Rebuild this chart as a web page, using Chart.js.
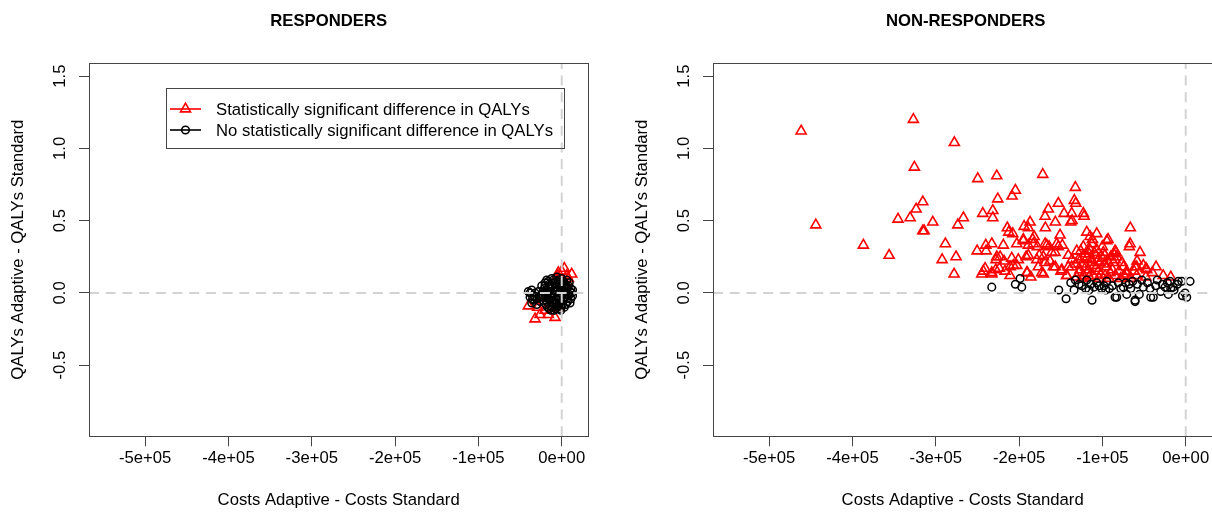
<!DOCTYPE html>
<html>
<head>
<meta charset="utf-8">
<title>Cost-effectiveness planes</title>
<script src="https://cdn.jsdelivr.net/npm/chart.js"></script>
<style>
  html, body { margin: 0; padding: 0; background: #fff; overflow: hidden; }
  body { width: 1212px; height: 518px; position: relative; }
  .panel { position: absolute; top: 0; width: 624px; height: 518px; }
</style>
</head>
<body>
<div class="panel" style="left:0"><canvas id="responders"></canvas></div>
<div class="panel" style="left:624px"><canvas id="nonResponders"></canvas></div>

<script>
// axis ticks, shared by both panels
const xTicks = [-500000, -400000, -300000, -200000, -100000, 0];
const xTickLabels = ['-5e+05', '-4e+05', '-3e+05', '-2e+05', '-1e+05', '0e+00'];
const yTicks = [-0.5, 0, 0.5, 1, 1.5];
const yTickLabels = ['-0.5', '0.0', '0.5', '1.0', '1.5'];

const seriesLabels = [
    'Statistically significant difference in QALYs',
    'No statistically significant difference in QALYs'
];

// [cost difference, QALY difference] per simulated patient
const respondersSig = [
    [3100, 0.17], [-4100, 0.14], [12000, 0.13], [6000, 0.12], [-4800, 0.12],
    [0, 0.15], [8000, 0.10], [-40000, -0.09], [-28800, -0.10], [-32000, -0.18],
    [-16100, -0.15], [-8000, -0.17], [-26000, -0.15], [-20000, -0.12], [-4100, -0.10]
];
const respondersNonSig = [
    [-40000, 0.01], [-36000, 0.02], [-32000, 0.00], [-38000, -0.03], [-34000, -0.05],
    [-30000, -0.04], [-28000, 0.01], [-26000, -0.02], [-36000, -0.07], [-30000, -0.08],
    [-18000, 0.09], [-12000, 0.10], [-6000, 0.11], [0, 0.10], [6000, 0.09],
    [9000, 0.07], [-15000, 0.06], [-9000, 0.07], [-3000, 0.06], [3000, 0.07],
    [7000, 0.04], [-21000, 0.03], [-14000, 0.03], [-8000, 0.04], [-2000, 0.02],
    [4000, 0.03], [10000, 0.01], [-23000, -0.01], [-17000, 0.00], [-11000, -0.01],
    [-5000, 0.01], [1000, -0.01], [8000, -0.02], [12000, 0.00], [-22000, -0.05],
    [-16000, -0.04], [-10000, -0.05], [-4000, -0.03], [2000, -0.05], [7000, -0.06],
    [11000, -0.04], [-19000, -0.08], [-13000, -0.09], [-7000, -0.07], [-1000, -0.09],
    [5000, -0.08], [-15000, -0.11], [-9000, -0.12], [-3000, -0.11], [3000, -0.10],
    [-20000, 0.07], [-6000, 0.08], [-12000, -0.03], [-1000, 0.05], [-26000, -0.06],
    [-24000, 0.05], [-20000, 0.05], [-16000, 0.08], [-10000, 0.09], [-4000, 0.09],
    [2000, 0.08], [8000, 0.05], [-18000, 0.02], [-12000, 0.05], [-6000, 0.04],
    [0, 0.04], [5000, 0.05], [11000, 0.03], [-20000, -0.02], [-14000, -0.01],
    [-8000, 0.01], [-2000, 0.00], [4000, 0.01], [9000, -0.01], [-24000, -0.03],
    [-18000, -0.06], [-12000, -0.06], [-6000, -0.05], [0, -0.06], [6000, -0.04],
    [10000, -0.07], [-17000, -0.10], [-11000, -0.10], [-5000, -0.09], [1000, -0.08],
    [-13000, -0.12], [-7000, -0.11], [-1000, -0.12], [-22000, 0.01], [-2000, 0.08],
    [4000, 0.06], [-8000, 0.02], [-15000, 0.01], [-9000, -0.03], [-3000, -0.07],
    [3000, -0.03], [-27000, -0.03], [-33000, -0.02], [-38000, 0.00], [-35000, -0.04],
    [13000, 0.02], [13000, -0.02]
];

const nonRespondersSig = [
    [-461600, 1.12], [-326900, 1.20], [-277700, 1.04], [-325700, 0.87], [-249600, 0.79],
    [-226800, 0.81], [-225600, 0.65], [-315600, 0.63], [-323600, 0.58], [-345300, 0.51],
    [-330800, 0.52], [-303600, 0.49], [-315600, 0.43], [-314000, 0.43], [-266900, 0.52],
    [-273600, 0.47], [-243600, 0.55], [-231600, 0.57], [-231600, 0.52], [-444000, 0.47],
    [-386900, 0.33], [-356000, 0.26], [-288500, 0.34], [-292400, 0.23], [-275700, 0.25],
    [-278000, 0.13], [-250400, 0.29], [-240000, 0.33], [-232800, 0.34], [-239600, 0.29],
    [-240800, 0.17], [-244800, 0.13], [-232800, 0.13], [-227600, 0.23], [-228000, 0.16],
    [-171600, 0.82], [-132500, 0.73], [-204500, 0.71], [-208400, 0.67], [-133700, 0.64],
    [-132000, 0.62], [-152900, 0.62], [-164900, 0.58], [-122900, 0.55], [-122000, 0.53],
    [-146000, 0.55], [-136800, 0.55], [-168800, 0.53], [-136400, 0.50], [-156500, 0.49],
    [-186800, 0.49], [-194000, 0.46], [-188900, 0.45], [-214100, 0.45], [-212400, 0.42],
    [-207600, 0.41], [-168500, 0.45], [-150800, 0.40], [-118800, 0.42], [-106800, 0.41],
    [-114800, 0.39], [-93200, 0.37], [-66500, 0.45], [-66800, 0.34], [-67700, 0.32],
    [-54800, 0.28], [-35600, 0.18], [-47600, 0.17], [-83600, 0.28], [-86400, 0.27],
    [-84800, 0.23], [-76400, 0.21], [-58400, 0.22], [-60800, 0.18], [-18000, 0.11],
    [-48000, 0.11], [-70800, 0.13], [-90800, 0.14], [-194900, 0.37], [-183600, 0.37],
    [-182000, 0.39], [-202800, 0.34], [-188900, 0.33], [-178100, 0.32], [-164000, 0.32],
    [-148100, 0.33], [-160800, 0.28], [-175700, 0.26], [-191600, 0.25], [-208800, 0.24],
    [-222800, 0.25], [-218000, 0.22], [-242900, 0.15], [-223700, 0.17], [-210800, 0.18],
    [-202800, 0.19], [-210800, 0.12], [-190100, 0.14], [-186000, 0.11], [-170900, 0.13],
    [-156500, 0.18], [-149600, 0.15], [-142800, 0.12], [-136400, 0.23], [-140900, 0.18],
    [-138000, 0.49], [-94800, 0.36], [-166800, 0.33], [-152900, 0.32], [-140900, 0.26],
    [-130800, 0.29], [-122900, 0.32], [-112800, 0.34], [-106800, 0.30], [-98900, 0.28],
    [-84800, 0.29], [-82800, 0.25], [-128800, 0.23], [-118800, 0.24], [-112800, 0.21],
    [-102800, 0.21], [-94800, 0.18], [-86900, 0.21], [-74900, 0.18], [-70800, 0.15],
    [-58800, 0.18], [-46800, 0.16], [-136800, 0.18], [-126800, 0.16], [-116900, 0.16],
    [-104900, 0.15], [-122900, 0.12], [-110900, 0.12], [-96800, 0.12], [-84800, 0.12],
    [-168800, 0.21], [-158900, 0.18], [-148800, 0.16], [-142800, 0.12], [-130800, 0.11],
    [-172800, 0.14], [-218900, 0.33], [-194900, 0.36], [-182900, 0.34], [-168800, 0.34],
    [-154800, 0.34], [-226800, 0.25], [-200900, 0.23], [-188900, 0.26], [-178800, 0.23],
    [-170900, 0.25], [-156800, 0.28], [-232800, 0.14], [-216900, 0.15], [-206900, 0.19],
    [-190800, 0.14], [-176900, 0.18], [-162900, 0.22], [-50900, 0.19], [-58800, 0.12],
    [-120000, 0.27], [-108000, 0.26], [-100000, 0.24], [-115000, 0.30], [-125000, 0.20],
    [-110000, 0.19], [-118000, 0.14], [-104000, 0.10], [-128000, 0.14], [-100000, 0.32],
    [-90000, 0.25], [-112000, 0.37], [-78000, 0.10], [-66000, 0.10], [-27000, 0.12],
    [-40000, 0.14], [-124000, 0.25], [-116000, 0.27], [-106000, 0.22], [-98000, 0.20],
    [-120000, 0.18], [-113000, 0.23], [-108000, 0.17], [-102000, 0.13], [-94000, 0.22],
    [-124000, 0.10], [-116000, 0.11], [-92000, 0.10], [-88000, 0.16], [-132000, 0.20],
    [-126000, 0.29], [-110000, 0.28], [-97000, 0.26], [-80000, 0.15], [-74000, 0.12],
    [-62000, 0.15]
];
const nonRespondersNonSig = [
    [-232800, 0.04], [-204500, 0.06], [-198800, 0.10], [-196800, 0.04], [-152400, 0.02],
    [-143600, -0.04], [-132500, 0.09], [-134000, 0.02], [-124800, 0.05], [-118800, 0.09],
    [-112400, -0.05], [-106800, 0.07], [-100800, 0.03], [-94800, 0.08], [-91700, 0.03],
    [-82800, -0.03], [-80900, 0.07], [-74900, 0.04], [-70800, -0.01], [-63600, 0.08],
    [-60800, -0.05], [-55700, -0.01], [-52800, 0.09], [-50900, 0.04], [-42000, -0.03],
    [-42800, 0.03], [-34100, 0.09], [-30000, 0.01], [-24800, 0.04], [-20900, -0.01],
    [-18800, 0.08], [-14900, 0.04], [-4800, 0.08], [5200, 0.08], [-800, 0.00],
    [1200, -0.03], [-110000, 0.04], [-98000, 0.05], [-88000, 0.05], [-78000, 0.03],
    [-66000, 0.03], [-128000, 0.06], [-116000, 0.02], [-104000, 0.05], [-84800, -0.03],
    [-60800, -0.06], [-38900, -0.03], [-8900, 0.08], [-4000, -0.02], [-28000, 0.06],
    [-14000, 0.02], [-22000, 0.07], [-46000, 0.07], [-58000, 0.06], [-68000, 0.06],
    [-120000, 0.03], [-138000, 0.07], [-114000, 0.06], [-96000, 0.02], [-72000, 0.07],
    [-36000, 0.05], [-18000, 0.03], [-10000, 0.06]
];

const FONT = '"Liberation Sans", Arial, Helvetica, sans-serif';
const FONT_SIZE = 16.7;
const AXIS_COLOR = '#444';

// box, reference lines, titles, rotated y labels and the legend
const panelDecor = {
    id: 'panelDecor',
    afterDatasetsDraw(chart) {
        const { ctx, chartArea: a, scales: { x, y } } = chart;
        const x0 = x.getPixelForValue(0);
        const y0 = y.getPixelForValue(0);
        ctx.save();
        ctx.beginPath();
        ctx.rect(a.left, a.top, a.width, a.height);
        ctx.clip();
        ctx.strokeStyle = '#d3d3d3';
        ctx.lineWidth = 2;
        ctx.setLineDash([10, 6.7]);
        ctx.beginPath();
        ctx.moveTo(a.left, y0);
        ctx.lineTo(a.right, y0);
        ctx.moveTo(x0, a.bottom);
        ctx.lineTo(x0, a.top);
        ctx.stroke();
        ctx.restore();
    },
    afterDraw(chart, args, opts) {
        const { ctx, chartArea: a, scales: { y } } = chart;
        const cx = (a.left + a.right) / 2;
        const cy = (a.top + a.bottom) / 2;
        ctx.save();

        ctx.strokeStyle = AXIS_COLOR;
        ctx.lineWidth = 1;
        ctx.strokeRect(Math.round(a.left) + 0.5, Math.round(a.top) + 0.5,
            Math.round(a.width), Math.round(a.height));

        ctx.fillStyle = '#000';
        ctx.textAlign = 'center';
        ctx.textBaseline = 'middle';
        ctx.font = 'bold ' + FONT_SIZE + 'px ' + FONT;
        ctx.fillText(opts.title, cx + opts.titleShift, 21);

        ctx.font = FONT_SIZE + 'px ' + FONT;
        ctx.fillText('Costs Adaptive - Costs Standard', cx, 500);

        yTicks.forEach((v, i) => {
            ctx.save();
            ctx.translate(a.left - 29, y.getPixelForValue(v));
            ctx.rotate(-Math.PI / 2);
            ctx.fillText(yTickLabels[i], 0, 0);
            ctx.restore();
        });

        ctx.save();
        ctx.translate(a.left - 71, cy);
        ctx.rotate(-Math.PI / 2);
        ctx.fillText('QALYs Adaptive - QALYs Standard', 0, 0);
        ctx.restore();

        if (opts.legend) {
            const lx = 166, ly = 88, lw = 398, lh = 60;
            ctx.strokeStyle = AXIS_COLOR;
            ctx.strokeRect(lx + 0.5, ly + 0.5, lw, lh);
            ctx.textAlign = 'left';
            chart.data.datasets.forEach((ds, i) => {
                const rowY = 109 + i * 21;
                ctx.strokeStyle = ds.borderColor;
                ctx.lineWidth = 1.6;
                ctx.beginPath();
                ctx.moveTo(170, rowY);
                ctx.lineTo(201, rowY);
                ctx.stroke();
                ctx.fillStyle = 'rgba(0,0,0,0)';
                Chart.helpers.drawPoint(ctx, {
                    pointStyle: ds.pointStyle,
                    radius: ds.pointRadius,
                    rotation: 0,
                    borderWidth: ds.borderWidth
                }, 185.5, rowY);
                ctx.fillStyle = '#000';
                ctx.fillText(ds.label, 216, rowY + 1);
            });
        }
        ctx.restore();
    }
};

function toPoints(pairs) {
    return pairs.map(p => ({ x: p[0], y: p[1] }));
}

function makeChart(canvasId, title, titleShift, sig, nonSig, showLegend) {
    const ctx = document.getElementById(canvasId).getContext('2d');
    return new Chart(ctx, {
        type: 'scatter',
        data: {
            datasets: [{
                label: seriesLabels[0],
                data: toPoints(sig),
                pointStyle: 'triangle',
                pointRadius: 5.8,
                borderColor: '#ff0000',
                backgroundColor: 'rgba(0,0,0,0)',
                borderWidth: 1.6,
                order: 1
            }, {
                label: seriesLabels[1],
                data: toPoints(nonSig),
                pointStyle: 'circle',
                pointRadius: 3.8,
                borderColor: '#000000',
                backgroundColor: 'rgba(0,0,0,0)',
                borderWidth: 1.5,
                order: 0
            }]
        },
        options: {
            responsive: true,
            maintainAspectRatio: false,
            animation: false,
            events: [],
            layout: { padding: { top: 63, right: 35.7, left: 0, bottom: 0 } },
            plugins: {
                legend: { display: false },
                tooltip: { enabled: false },
                title: { display: false },
                panelDecor: { title: title, titleShift: titleShift, legend: showLegend }
            },
            scales: {
                x: {
                    type: 'linear',
                    min: -567400,
                    max: 31900,
                    afterBuildTicks: s => { s.ticks = xTicks.map(v => ({ value: v })); },
                    afterFit: s => { s.height = 81.7; },
                    ticks: {
                        callback: (v, i) => xTickLabels[i],
                        font: { family: FONT, size: FONT_SIZE },
                        color: '#000',
                        padding: 2,
                        maxRotation: 0,
                        autoSkip: false
                    },
                    grid: { drawOnChartArea: false, drawTicks: true, tickLength: 10, color: AXIS_COLOR },
                    border: { display: false }
                },
                y: {
                    type: 'linear',
                    min: -0.992,
                    max: 1.591,
                    afterBuildTicks: s => { s.ticks = yTicks.map(v => ({ value: v })); },
                    afterFit: s => { s.width = 89; },
                    ticks: { display: false },
                    grid: { drawOnChartArea: false, drawTicks: true, tickLength: 10, color: AXIS_COLOR },
                    border: { display: false }
                }
            }
        },
        plugins: [panelDecor]
    });
}

makeChart('responders', 'RESPONDERS', -10, respondersSig, respondersNonSig, true);
makeChart('nonResponders', 'NON-RESPONDERS', 3, nonRespondersSig, nonRespondersNonSig, false);
</script>
</body>
</html>
